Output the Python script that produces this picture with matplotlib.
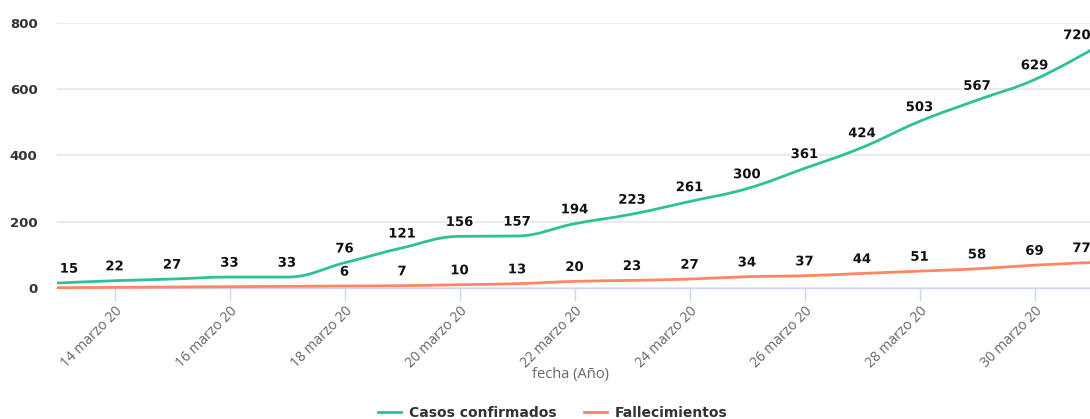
import matplotlib
matplotlib.use("Agg")
import matplotlib.pyplot as plt
from matplotlib.path import Path
from matplotlib.patches import PathPatch
from matplotlib.lines import Line2D
import matplotlib.patheffects as pe

dates = ["13 marzo 20", "14 marzo 20", "15 marzo 20", "16 marzo 20", "17 marzo 20",
         "18 marzo 20", "19 marzo 20", "20 marzo 20", "21 marzo 20", "22 marzo 20",
         "23 marzo 20", "24 marzo 20", "25 marzo 20", "26 marzo 20", "27 marzo 20",
         "28 marzo 20", "29 marzo 20", "30 marzo 20", "31 marzo 20"]
confirmados = [15, 22, 27, 33, 33, 76, 121, 156, 157, 194, 223, 261, 300, 361, 424, 503, 567, 629, 720]
fallecimientos = [1, 2, 3, 4, 5, 6, 7, 10, 13, 20, 23, 27, 34, 37, 44, 51, 58, 69, 77]
labeled_from_fall = 5  # first death label shown (earlier ones hidden by overlap)
y_ticks = [0, 200, 400, 600, 800]

GREEN = "#2dc199"
ORANGE = "#ff8662"

W, H = 1090, 419
fig = plt.figure(figsize=(W / 100, H / 100), dpi=100)
left_px, right_px, top_px, bot_px = 57, 1092, 23, 288
ax = fig.add_axes([left_px / W, 1 - bot_px / H, (right_px - left_px) / W, (bot_px - top_px) / H])
ax.set_xlim(0, len(dates) - 1)
ax.set_ylim(0, 800)


def spline_path(xs, ys, smoothing=1.5):
    n = len(xs)
    lc = [None] * n
    rc = [None] * n
    denom = smoothing + 1
    for i in range(1, n - 1):
        px, py = xs[i], ys[i]
        lx, ly = xs[i - 1], ys[i - 1]
        nx, ny = xs[i + 1], ys[i + 1]
        lcx = (smoothing * px + lx) / denom
        lcy = (smoothing * py + ly) / denom
        rcx = (smoothing * px + nx) / denom
        rcy = (smoothing * py + ny) / denom
        if rcx != lcx:
            corr = ((rcy - lcy) * (rcx - px)) / (rcx - lcx) + py - rcy
            lcy += corr
            rcy += corr
        if lcy > ly and lcy > py:
            lcy = max(ly, py)
            rcy = 2 * py - lcy
        elif lcy < ly and lcy < py:
            lcy = min(ly, py)
            rcy = 2 * py - lcy
        if rcy > ny and rcy > py:
            rcy = max(ny, py)
            lcy = 2 * py - rcy
        elif rcy < ny and rcy < py:
            rcy = min(ny, py)
            lcy = 2 * py - rcy
        lc[i] = (lcx, lcy)
        rc[i] = (rcx, rcy)
    verts = [(xs[0], ys[0])]
    codes = [Path.MOVETO]
    for i in range(1, n):
        c1 = rc[i - 1] if rc[i - 1] is not None else (xs[i - 1], ys[i - 1])
        c2 = lc[i] if lc[i] is not None else (xs[i], ys[i])
        verts += [c1, c2, (xs[i], ys[i])]
        codes += [Path.CURVE4] * 3
    return Path(verts, codes)


x = list(range(len(dates)))

for v in y_ticks:
    ax.axhline(v, color="#e6e6e6", lw=1.2, zorder=0)

ax.add_patch(PathPatch(spline_path(x, fallecimientos), fill=False, edgecolor=ORANGE, lw=2, zorder=3, clip_on=False))
ax.add_patch(PathPatch(spline_path(x, confirmados), fill=False, edgecolor=GREEN, lw=2, zorder=4, clip_on=False))

lab_kw = dict(ha="center", va="center", fontsize=9.5, fontweight="bold", color="#111111",
              family="DejaVu Sans", zorder=6, annotation_clip=False,
              path_effects=[pe.withStroke(linewidth=2.5, foreground="white")])
last = len(dates) - 1
for i, v in enumerate(confirmados):
    if i == 0:
        ax.annotate(str(v), (i, v), xytext=(2, 10), textcoords="offset points", **{**lab_kw, "ha": "left"})
    elif i == last:
        ax.annotate(str(v), (i, v), xytext=(-1, 10), textcoords="offset points", **{**lab_kw, "ha": "right"})
    else:
        ax.annotate(str(v), (i, v), xytext=(0, 10), textcoords="offset points", **lab_kw)
for i, v in enumerate(fallecimientos):
    if i < labeled_from_fall:
        continue
    if i == last:
        ax.annotate(str(v), (i, v), xytext=(-1, 10), textcoords="offset points", **{**lab_kw, "ha": "right"})
    else:
        ax.annotate(str(v), (i, v), xytext=(0, 10), textcoords="offset points", **lab_kw)

for s in ["top", "right", "left"]:
    ax.spines[s].set_visible(False)
ax.spines["bottom"].set_color("#ccd6eb")
ax.spines["bottom"].set_linewidth(1)
ax.spines["bottom"].set_zorder(1)

ax.set_yticks(y_ticks)
ax.set_yticklabels([str(v) for v in y_ticks], fontsize=9.5, color="#333333", fontweight="semibold")
ax.tick_params(axis="y", length=0, pad=14)

tick_idx = list(range(1, len(dates), 2))
ax.set_xticks(tick_idx)
ax.set_xticklabels([dates[i] for i in tick_idx], rotation=45, ha="right", va="top",
                   rotation_mode="anchor", fontsize=10, color="#666666", family="Open Sans")
ax.tick_params(axis="x", length=9, width=1, color="#ccd6eb", pad=2)

fig.text(570 / W, 1 - 374 / H, "fecha (Año)", ha="center", va="center", fontsize=10.5,
         color="#666666", family="Open Sans")

handles = [Line2D([], [], color=GREEN, lw=2), Line2D([], [], color=ORANGE, lw=2)]
leg = fig.legend(handles, ["Casos confirmados", "Fallecimientos"], loc="center",
                 bbox_to_anchor=(553 / W, 1 - 413 / H), ncol=2, frameon=False,
                 handlelength=1.6, columnspacing=2.0, handletextpad=0.6,
                 prop={"weight": "bold", "size": 10, "family": "DejaVu Sans"})
for t in leg.get_texts():
    t.set_color("#333333")

fig.savefig("out.png", dpi=100)
